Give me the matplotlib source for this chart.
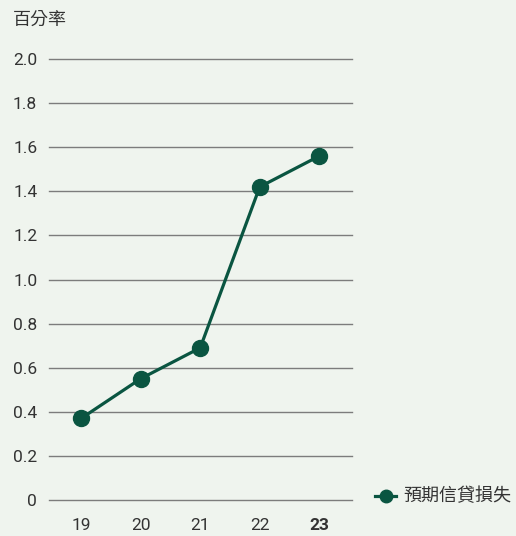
import matplotlib
matplotlib.use("Agg")
import matplotlib.pyplot as plt
from matplotlib.lines import Line2D

plt.rcParams['font.family'] = ['Roboto', 'Noto Sans CJK TC', 'DejaVu Sans']

categories = ["19", "20", "21", "22", "23"]
values = [0.37, 0.55, 0.69, 1.42, 1.56]
yticks = [0, 0.2, 0.4, 0.6, 0.8, 1.0, 1.2, 1.4, 1.6, 1.8, 2.0]
ytick_labels = ["0", "0.2", "0.4", "0.6", "0.8", "1.0", "1.2", "1.4", "1.6", "1.8", "2.0"]
series_name = "預期信貸損失"
y_title = "百分率"

bg = "#eff4ee"
green = "#0a5541"
text_c = "#333333"
cjk = ['Noto Sans CJK TC', 'DejaVu Sans']

W, H = 516, 536
fig = plt.figure(figsize=(W/100, H/100), dpi=100, facecolor=bg)
ax = fig.add_axes([49/W, (H-500)/H, (352-49)/W, (500-59)/H])
ax.set_facecolor(bg)

x = list(range(len(categories)))
ax.plot(x, values, color=green, lw=2.3, marker='o', ms=11.5, zorder=3, clip_on=False)

ax.set_xlim(-0.54, 4.55)
ax.set_ylim(0, 2.0)
ax.set_yticks(yticks)
ax.set_yticklabels(ytick_labels)
ax.set_xticks(x)
ax.set_xticklabels(categories)
for lbl in ax.get_xticklabels():
    if lbl.get_text() == "23":
        lbl.set_fontweight('bold')
        lbl.set_color("#222222")
ax.grid(axis='y', color='#7c7c7c', lw=1.0)
for gl in ax.get_ygridlines():
    gl.set_clip_on(False)
ax.set_axisbelow(True)
for s in ax.spines.values():
    s.set_visible(False)
ax.tick_params(axis='both', length=0, labelsize=12.5, colors=text_c)
ax.tick_params(axis='y', pad=8.5)
ax.tick_params(axis='x', pad=13)

fig.text(13/W, 1 - 20/H, y_title, fontsize=13, color=text_c, va='center', ha='left',
         family=cjk)

# legend drawn manually in figure coordinates
ly = 1 - 496/H
fig.add_artist(Line2D([375/W, 396/W], [ly, ly], color=green, lw=2.3, transform=fig.transFigure))
fig.add_artist(Line2D([385.5/W], [ly], color=green, marker='o', ms=9, transform=fig.transFigure))
fig.text(403/W, ly, series_name, fontsize=13, color=text_c, va='center', ha='left', family=cjk)

fig.savefig("out.png", dpi=100, facecolor=bg)
